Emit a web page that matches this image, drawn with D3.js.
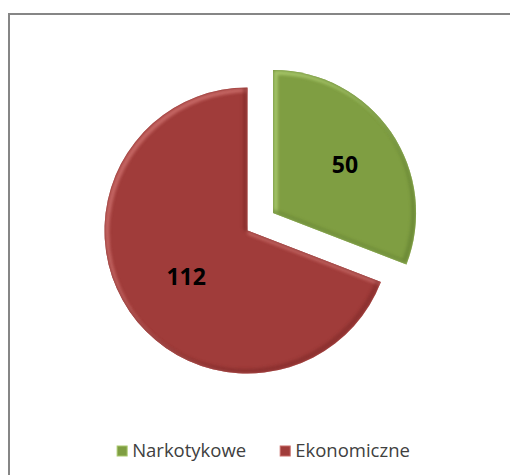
<!DOCTYPE html>
<html>
<head>
<meta charset="utf-8">
<script src="https://cdn.jsdelivr.net/npm/d3@7"></script>
<style>
  html, body { margin: 0; padding: 0; background: #fff; }
  svg { display: block; }
</style>
</head>
<body>
<svg id="chart" width="510" height="475"></svg>
<script>
// ---- data ----
const categories = ["Narkotykowe", "Ekonomiczne"];
const values = [50, 112];
const exploded = [true, false];

// ---- styles ----
const colors = ["#7f9e42", "#a03c3a"];
const lightRim = ["#a9c86c", "#c86a67"];
const darkRim = ["#5d7a2e", "#7a2825"];
const labelFrac = [0.61, 0.52];

const cx = 247.5, cy = 230.5, R = 143, explode = 31;

const svg = d3.select("#chart");
const defs = svg.append("defs");
defs.append("filter").attr("id", "soft")
  .attr("x", "-10%").attr("y", "-10%").attr("width", "120%").attr("height", "120%")
  .append("feGaussianBlur").attr("stdDeviation", 1.6);

// frame
svg.append("rect")
  .attr("x", 9).attr("y", 14).attr("width", 620).attr("height", 620)
  .attr("fill", "none").attr("stroke", "#868686").attr("stroke-width", 2);

const pie = d3.pie().sort(null).value(d => d)(values);
const arc = d3.arc().innerRadius(0).outerRadius(R);

const g = svg.append("g").attr("transform", `translate(${cx},${cy})`);

const slices = g.selectAll("g.slice").data(pie).join("g")
  .attr("class", "slice")
  .attr("transform", (d, i) => {
    if (!exploded[i]) return null;
    const a = (d.startAngle + d.endAngle) / 2;
    return `translate(${Math.sin(a) * explode},${-Math.cos(a) * explode})`;
  });

slices.each(function (d, i) {
  const s = d3.select(this);
  const p = arc(d);
  const clipId = "clip" + i;
  defs.append("clipPath").attr("id", clipId).append("path").attr("d", p);
  s.append("path").attr("d", p).attr("fill", colors[i]);
  const rim = s.append("g").attr("clip-path", `url(#${clipId})`);
  rim.append("path").attr("d", p)
    .attr("fill", "none").attr("stroke", lightRim[i]).attr("stroke-width", 5)
    .attr("stroke-linejoin", "round")
    .attr("transform", "translate(2.2,2.2)").attr("filter", "url(#soft)").attr("opacity", 0.9);
  rim.append("path").attr("d", p)
    .attr("fill", "none").attr("stroke", darkRim[i]).attr("stroke-width", 5)
    .attr("stroke-linejoin", "round")
    .attr("transform", "translate(-2.2,-2.2)").attr("filter", "url(#soft)").attr("opacity", 0.5);

  const c = d3.arc().innerRadius(R * labelFrac[i]).outerRadius(R * labelFrac[i]).centroid(d);
  s.append("text")
    .attr("x", c[0]).attr("y", c[1] + (i === 1 ? 3 : 0))
    .attr("text-anchor", "middle").attr("dominant-baseline", "central")
    .attr("font-family", "'Open Sans', sans-serif").attr("font-weight", "bold")
    .attr("font-size", 23).attr("fill", "#000")
    .text(values[i]);
});

// legend
const legend = svg.append("g");
const items = legend.selectAll("g").data(categories).join("g");
items.append("rect")
  .attr("width", 10).attr("height", 10).attr("y", -11)
  .attr("fill", (d, i) => colors[i])
  .attr("stroke", (d, i) => lightRim[i]).attr("stroke-width", 1);
items.append("text")
  .attr("x", 15).attr("y", 0)
  .attr("font-family", "'Open Sans', sans-serif").attr("font-size", 18.5)
  .attr("fill", "#404040")
  .text(d => d);
const gap = 34;
const widths = items.nodes().map(n => n.getBBox().width);
const total = d3.sum(widths) + gap * (widths.length - 1);
let x0 = 263.5 - total / 2;
items.attr("transform", (d, i) => {
  const t = `translate(${x0},457)`;
  x0 += widths[i] + gap;
  return t;
});
</script>
</body>
</html>
